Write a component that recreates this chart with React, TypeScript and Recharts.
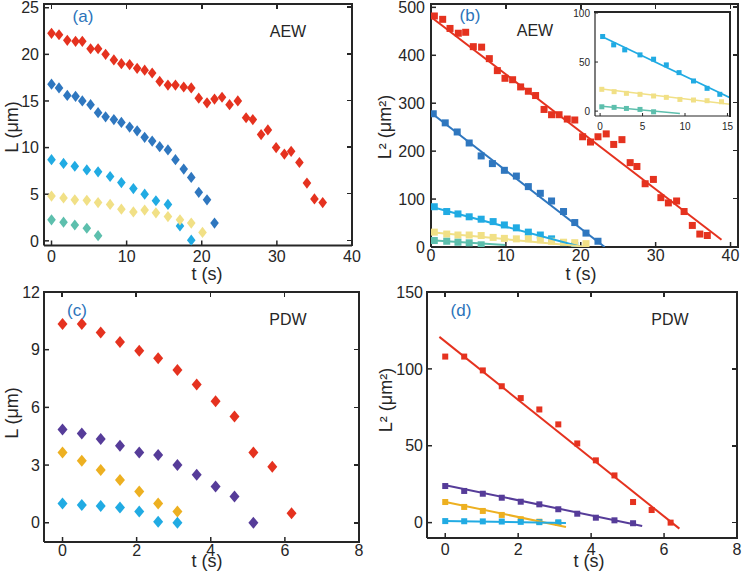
import React from "react";
import { ScatterChart, Scatter, XAxis, YAxis } from "recharts";

// ---- (a) AEW: L vs t ----
const tA = [0, 1.0, 2.1, 3.2, 4.1, 5.2, 6.2, 7.2, 8.3, 9.3, 10.4, 11.4, 12.4, 13.4, 14.4, 15.5, 16.5, 17.6, 18.6, 19.6, 20.7, 21.7, 22.7, 23.7, 24.8, 25.9, 26.8, 27.9, 28.8, 29.9, 31.0, 31.9, 33.0, 34.0, 35.0, 36.1];
const aRed = [22.25, 22.1, 21.5, 21.4, 21.4, 20.6, 20.6, 20.0, 19.4, 19.0, 18.9, 18.5, 18.3, 18.0, 17.1, 16.7, 16.7, 16.5, 16.4, 15.3, 14.8, 15.2, 15.4, 14.6, 15.0, 13.2, 13.0, 11.4, 11.9, 10.0, 9.3, 9.6, 8.4, 6.2, 4.5, 4.1];
const aBlue = [16.8, 16.4, 15.6, 15.5, 15.0, 14.6, 13.75, 13.3, 13.0, 12.7, 12.2, 11.8, 11.1, 10.7, 10.1, 9.75, 8.7, 7.7, 6.8, 5.2, 4.4, 1.9];
const tA2 = [0, 1.6, 3.1, 4.7, 6.2, 7.8, 9.3, 10.9, 12.4, 13.9, 15.5, 17.1, 18.6, 20.1];
const aCyan = [8.7, 8.3, 8.0, 7.6, 7.4, 6.9, 6.25, 5.6, 5.0, 4.3, 3.9, 1.6, 0.07];
const aYellow = [4.8, 4.6, 4.4, 4.35, 4.1, 3.9, 3.4, 3.1, 3.3, 3.0, 2.6, 2.25, 1.9, 0.9];
const aTeal = [2.25, 2.0, 1.7, 1.35, 0.55];

// ---- (b) AEW: L^2 vs t ----
const tBRed = [0.45, 1.56, 2.54, 3.65, 4.63, 5.65, 6.76, 7.79, 8.86, 9.88, 10.9, 11.97, 13.0, 13.97, 15.1, 16.1, 17.1, 18.2, 19.2, 20.25, 21.3, 22.3, 23.4, 24.4, 25.5, 26.6, 27.5, 28.6, 29.7, 30.7, 31.7, 32.8, 33.8, 34.9, 35.9, 36.9];
const bRed = [482, 475, 456, 446, 448, 418, 417, 393, 368, 352, 349, 334, 325, 316, 287, 276, 276, 267, 265, 230, 219, 230, 236, 214, 224, 176, 168, 132, 141, 103, 92, 96, 74, 45, 27, 24];
const tBBlue = [0.3, 1.9, 3.5, 5.1, 6.7, 8.2, 9.8, 11.4, 13.0, 14.6, 16.1, 17.7, 19.2, 20.7, 22.3];
const bBlue = [278, 259, 240, 217, 190, 174, 160, 148, 126, 112, 96, 74, 51, 29, 12];
const tBSmall = [0.44, 2.1, 3.6, 5.1, 6.7, 8.3, 9.8, 11.4, 13.0, 14.6, 16.1, 17.7, 19.2, 20.7];
const bCyan = [84, 74, 69, 63, 58, 53, 46, 40, 31, 25, 17, 9, 3];
const bYellow = [31, 27, 25, 25, 24, 20, 18, 17, 17, 15, 12, 10, 9, 7];
const bTeal = [13.5, 12, 10, 8.7, 4.6];
// fitted lines (end points)
const bFitRedT = [0, 38.8];
const bFitRed = [480, 15];
const bFitBlueT = [0, 23.2];
const bFitBlue = [280, 0];
const bFitCyanT = [0, 20.1];
const bFitCyan = [84, 0];
const bFitYellowT = [0, 21];
const bFitYellow = [31, 0];
const bFitTealT = [0, 9.9];
const bFitTeal = [14, 4];

// ---- (b) inset ----
const tInCyan = [0.3, 1.6, 2.9, 4.7, 6.3, 7.8, 9.3, 11.0, 12.6, 14.1];
const inCyan = [76, 67.5, 62.4, 57.3, 52.9, 47.1, 39.2, 30.7, 23.2, 17.1];
const tIn = [0.2, 1.65, 3.1, 4.7, 6.3, 7.8, 9.4, 11.0, 12.6, 14.3];
const inYellow = [22.2, 19.8, 18.1, 17.1, 15.4, 14, 11.9, 11.3, 10.6, 9.5];
const inTeal = [4.4, 3.8, 2.7, 1.7, -0.7];
const inFitT = [0.2, 15.3];
const inFitCyan = [76, 13.6];
const inFitYellow = [22.5, 7];
const inFitTealT = [0.2, 9.4];
const inFitTeal = [5, -2.4];

// ---- (c) PDW: L vs t ----
const tC = [0, 0.52, 1.03, 1.55, 2.07, 2.58, 3.1, 3.62, 4.13, 4.64, 5.15, 5.66, 6.18];
const cRed = [10.33, 10.33, 9.9, 9.4, 8.95, 8.55, 7.94, 7.19, 6.32, 5.53, 3.66, 2.91, 0.49];
const cPurple = [4.85, 4.64, 4.36, 4.01, 3.66, 3.52, 3.0, 2.5, 1.88, 1.36, 0];
const cGold = [3.66, 3.23, 2.74, 2.22, 1.62, 1.0, 0.58];
const cCyan = [1.0, 0.92, 0.87, 0.79, 0.58, 0.05, 0];

// ---- (d) PDW: L^2 vs t ----
const dRed = [108, 108, 99, 88.7, 81, 73.6, 63.9, 51.5, 40.5, 30.7, 13.4, 8.2, 0];
const dPurple = [23.8, 20.6, 18.8, 16.2, 13.6, 11.9, 8.7, 5.8, 3.2, 1.5, -0.4];
const dGold = [13.4, 10.2, 7.6, 5.0, 2.2, 0.6, -0.2];
const dCyan = [1.0, 0.9, 0.8, 0.7, 0.5, 0.3, 0.2];
const dFitRedT = [-0.16, 6.42];
const dFitRed = [120.8, -3.9];
const dFitPurpleT = [-0.06, 5.4];
const dFitPurple = [24.7, -2.2];
const dFitShortT = [-0.06, 3.31];
const dFitGold = [13.8, -2.8];
const dFitCyan = [1.0, -0.2];

const RED = "#E5321F";
const BLUE = "#2F77BF";
const CYAN = "#21ABE3";
const YELLOW = "#F1E086";
const TEAL = "#5DBFAD";
const PURPLE = "#563C99";
const GOLD = "#EDB021";
const INK = "#262626";
const FONT = '"Liberation Sans", Arial, Helvetica, sans-serif';

const pts = (t: number[], v: number[]) => v.map((y, i) => ({ x: t[i], y }));

const diamond = (hw: number, hh: number) => (p: any) => (
  <polygon
    points={`${p.cx},${p.cy - hh} ${p.cx + hw},${p.cy} ${p.cx},${p.cy + hh} ${p.cx - hw},${p.cy}`}
    fill={p.fill}
  />
);
const square = (s: number) => (p: any) => (
  <rect x={p.cx - s / 2} y={p.cy - s / 2} width={s} height={s} fill={p.fill} />
);
const noMark = () => <g />;

const markers = (data: any[], color: string, shape: any) => (
  <Scatter data={data} fill={color} shape={shape} isAnimationActive={false} />
);
const fit = (data: any[], color: string, w = 2) => (
  <Scatter
    data={data}
    fill={color}
    shape={noMark}
    line={{ stroke: color, strokeWidth: w }}
    isAnimationActive={false}
  />
);

type Box = {
  x: number;
  y: number;
  w: number;
  h: number;
  xDomain: number[];
  yDomain: number[];
  xTicks: number[];
  yTicks: number[];
  xMargin: number;
  yMargin: number;
  inset?: boolean;
};

// panel placement (plot-area rectangles in page pixels) and axis settings
const boxA: Box = { x: 44, y: 3.5, w: 308, h: 241.5, xDomain: [-1, 40], yDomain: [-0.5, 25.4], xTicks: [0, 10, 20, 30, 40], yTicks: [0, 5, 10, 15, 20, 25], xMargin: 10, yMargin: 10 };
const boxB: Box = { x: 431, y: 3.5, w: 307, h: 243, xDomain: [0, 41], yDomain: [0, 507], xTicks: [0, 10, 20, 30, 40], yTicks: [0, 100, 200, 300, 400, 500], xMargin: 8, yMargin: 11 };
const boxIn: Box = { x: 595, y: 12, w: 135, h: 104, xDomain: [-0.6, 15.3], yDomain: [-5, 101], xTicks: [0, 5, 10, 15], yTicks: [0, 50, 100], xMargin: 10, yMargin: 8, inset: true };
const boxC: Box = { x: 43.5, y: 292, w: 315, h: 250, xDomain: [-0.5, 8], yDomain: [-1, 12], xTicks: [0, 2, 4, 6, 8], yTicks: [0, 3, 6, 9, 12], xMargin: 8, yMargin: 9 };
const boxD: Box = { x: 427, y: 292, w: 310, h: 246, xDomain: [-0.5, 8], yDomain: [-10, 150], xTicks: [0, 2, 4, 6, 8], yTicks: [0, 50, 100, 150], xMargin: 11, yMargin: 9 };

const Panel = ({ b, children }: { b: Box; children?: React.ReactNode }) => {
  const L = b.inset ? 30 : 44;
  const B = b.inset ? 18 : 36;
  const mt = 10;
  const mr = 12;
  const fs = b.inset ? 10 : 16;
  const tk = b.inset ? -3 : -5;
  const sw = b.inset ? 1.2 : 2;
  const axisLine = { stroke: INK, strokeWidth: sw };
  const tickLine = { stroke: INK, strokeWidth: b.inset ? 1 : 1.5 };
  const tick = { fill: INK, fontSize: fs, fontFamily: FONT };
  return (
    <div style={{ position: "absolute", left: b.x - L, top: b.y - mt }}>
      <ScatterChart
        width={L + b.w + mr}
        height={mt + b.h + B}
        margin={{ top: mt, right: mr, bottom: 0, left: 0 }}
      >
        <XAxis
          type="number"
          dataKey="x"
          domain={b.xDomain}
          ticks={b.xTicks}
          interval={0}
          allowDataOverflow
          height={B}
          tickSize={tk}
          tickMargin={b.xMargin}
          axisLine={axisLine}
          tickLine={tickLine}
          tick={tick}
        />
        <YAxis
          type="number"
          dataKey="y"
          domain={b.yDomain}
          ticks={b.yTicks}
          interval={0}
          allowDataOverflow
          width={L}
          tickSize={tk}
          tickMargin={b.yMargin}
          axisLine={axisLine}
          tickLine={tickLine}
          tick={tick}
        />
        {children}
      </ScatterChart>
    </div>
  );
};

// top and right edges of the MATLAB-style box, with inward ticks; drawn last, above everything
const BoxEdges = ({ b }: { b: Box }) => {
  const sw = b.inset ? 1.2 : 2;
  const tl = b.inset ? 0 : 5;
  const [x0, x1] = b.xDomain;
  const [y0, y1] = b.yDomain;
  const px = (v: number) => ((v - x0) / (x1 - x0)) * b.w;
  const py = (v: number) => b.h - ((v - y0) / (y1 - y0)) * b.h;
  return (
    <div
      style={{
        position: "absolute",
        left: b.x,
        top: b.y,
        width: b.w,
        height: b.h,
        zIndex: 10,
        pointerEvents: "none",
      }}
    >
      <div style={{ position: "absolute", left: -sw / 2, top: -sw / 2, width: b.w + sw, height: sw, background: INK }} />
      <div style={{ position: "absolute", left: b.w - sw / 2, top: -sw / 2, width: sw, height: b.h + sw, background: INK }} />
      {tl > 0 &&
        b.xTicks.map((t) => (
          <div key={`x${t}`} style={{ position: "absolute", left: px(t) - 0.75, top: 0, width: 1.5, height: tl, background: INK }} />
        ))}
      {tl > 0 &&
        b.yTicks.map((v) => (
          <div key={`y${v}`} style={{ position: "absolute", left: b.w - tl, top: py(v) - 0.75, width: tl, height: 1.5, background: INK }} />
        ))}
    </div>
  );
};

type Lbl = { text: string; x: number; y: number; size: number; color?: string; rot?: boolean };
const labels: Lbl[] = [
  { text: "(a)", x: 83, y: 16, size: 17, color: "#2B73BA" },
  { text: "AEW", x: 288, y: 32, size: 16 },
  { text: "L (μm)", x: 12, y: 127, size: 18, rot: true },
  { text: "t (s)", x: 207, y: 274, size: 18 },
  { text: "(b)", x: 470, y: 15, size: 17, color: "#2B73BA" },
  { text: "AEW", x: 535, y: 31, size: 16 },
  { text: "L² (μm²)", x: 385, y: 127, size: 18, rot: true },
  { text: "t (s)", x: 581, y: 274, size: 18 },
  { text: "(c)", x: 77, y: 310, size: 17, color: "#2B73BA" },
  { text: "PDW", x: 288, y: 320, size: 16 },
  { text: "L (μm)", x: 12, y: 413, size: 18, rot: true },
  { text: "t (s)", x: 207, y: 561, size: 18 },
  { text: "(d)", x: 461, y: 310, size: 17, color: "#2B73BA" },
  { text: "PDW", x: 670, y: 320, size: 16 },
  { text: "L² (μm²)", x: 386, y: 400, size: 18, rot: true },
  { text: "t (s)", x: 589, y: 561, size: 18 },
];

const dA = diamond(4.3, 5.6);
const dC = diamond(5, 6);
const sB = square(7);
const sD = square(6);
const sIn = square(5);

export default function App() {
  return (
    <div
      style={{
        position: "absolute",
        left: 0,
        top: 0,
        width: 750,
        height: 574,
        background: "#fff",
        overflow: "hidden",
        fontFamily: FONT,
      }}
    >
      {/* (a) */}
      <Panel b={boxA}>
        {markers(pts(tA, aRed), RED, dA)}
        {markers(pts(tA, aBlue), BLUE, dA)}
        {markers(pts(tA2, aCyan), CYAN, dA)}
        {markers(pts(tA2, aYellow), YELLOW, dA)}
        {markers(pts(tA2, aTeal), TEAL, dA)}
      </Panel>

      {/* (b) */}
      <Panel b={boxB}>
        {markers(pts(tBRed, bRed), RED, sB)}
        {markers(pts(tBBlue, bBlue), BLUE, sB)}
        {markers(pts(tBSmall, bCyan), CYAN, sB)}
        {markers(pts(tBSmall, bYellow), YELLOW, sB)}
        {markers(pts(tBSmall, bTeal), TEAL, sB)}
        {fit(pts(bFitRedT, bFitRed), RED)}
        {fit(pts(bFitBlueT, bFitBlue), BLUE)}
        {fit(pts(bFitCyanT, bFitCyan), CYAN)}
        {fit(pts(bFitYellowT, bFitYellow), YELLOW)}
        {fit(pts(bFitTealT, bFitTeal), TEAL)}
      </Panel>

      {/* inset of (b) */}
      <div style={{ position: "absolute", left: 595, top: 12, width: 135, height: 104, background: "#fff" }} />
      <Panel b={boxIn}>
        {markers(pts(tInCyan, inCyan), CYAN, sIn)}
        {markers(pts(tIn, inYellow), YELLOW, sIn)}
        {markers(pts(tIn, inTeal), TEAL, sIn)}
        {fit(pts(inFitT, inFitCyan), CYAN, 1.6)}
        {fit(pts(inFitT, inFitYellow), YELLOW, 1.6)}
        {fit(pts(inFitTealT, inFitTeal), TEAL, 1.6)}
      </Panel>

      {/* (c) */}
      <Panel b={boxC}>
        {markers(pts(tC, cRed), RED, dC)}
        {markers(pts(tC, cPurple), PURPLE, dC)}
        {markers(pts(tC, cGold), GOLD, dC)}
        {markers(pts(tC, cCyan), CYAN, dC)}
      </Panel>

      {/* (d) */}
      <Panel b={boxD}>
        {markers(pts(tC, dRed), RED, sD)}
        {markers(pts(tC, dPurple), PURPLE, sD)}
        {markers(pts(tC, dGold), GOLD, sD)}
        {markers(pts(tC, dCyan), CYAN, sD)}
        {fit(pts(dFitRedT, dFitRed), RED)}
        {fit(pts(dFitPurpleT, dFitPurple), PURPLE)}
        {fit(pts(dFitShortT, dFitGold), GOLD)}
        {fit(pts(dFitShortT, dFitCyan), CYAN)}
      </Panel>

      {labels.map((l, i) => (
        <div
          key={i}
          style={{
            position: "absolute",
            left: l.x,
            top: l.y,
            transform: `translate(-50%, -50%)${l.rot ? " rotate(-90deg)" : ""}`,
            fontSize: l.size,
            color: l.color || INK,
            whiteSpace: "nowrap",
            lineHeight: 1,
          }}
        >
          {l.text}
        </div>
      ))}

      {[boxA, boxB, boxIn, boxC, boxD].map((b, i) => (
        <BoxEdges key={i} b={b} />
      ))}
    </div>
  );
}
